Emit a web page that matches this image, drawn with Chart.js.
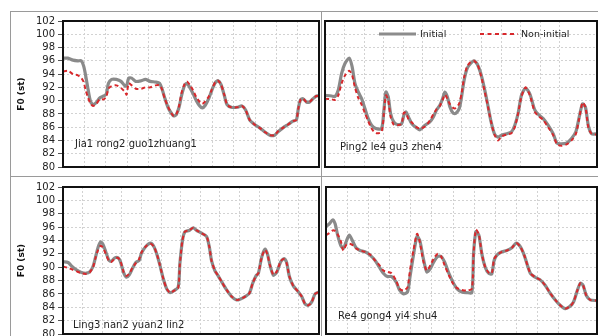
<!DOCTYPE html>
<html><head><meta charset="utf-8">
<script src="https://cdn.jsdelivr.net/npm/chart.js@4"></script>
<style>
html,body{margin:0;padding:0;background:#fff;}
#wrap{position:relative;width:598px;height:336px;overflow:hidden;font-family:'DejaVu Sans',sans-serif;}
canvas{position:absolute;}
.ln{position:absolute;background:#9a9a9a;}
.lab{position:absolute;font-size:10px;line-height:12px;color:#222;white-space:nowrap;}
.leg{position:absolute;font-size:9.5px;line-height:12px;color:#222;white-space:nowrap;}
</style></head><body>
<div id="wrap">
<canvas id="c1" width="322" height="176" style="left:0;top:0;width:322px;height:176px"></canvas>
<canvas id="c2" width="276" height="176" style="left:322px;top:0;width:276px;height:176px"></canvas>
<canvas id="c3" width="322" height="160" style="left:0;top:176px;width:322px;height:160px"></canvas>
<canvas id="c4" width="276" height="160" style="left:322px;top:176px;width:276px;height:160px"></canvas>
<div class="ln" style="left:10px;top:11px;width:588px;height:1px"></div>
<div class="ln" style="left:10px;top:11px;width:1px;height:325px"></div>
<div class="ln" style="left:321px;top:11px;width:1px;height:325px"></div>
<div class="ln" style="left:10px;top:176px;width:588px;height:1px"></div>
<div class="lab" style="left:75px;top:138px">Jia1 rong2 guo1zhuang1</div>
<div class="lab" style="left:340px;top:141px">Ping2 le4 gu3 zhen4</div>
<div class="lab" style="left:73px;top:319px">Ling3 nan2 yuan2 lin2</div>
<div class="lab" style="left:338px;top:310px">Re4 gong4 yi4 shu4</div>
<svg style="position:absolute;left:376px;top:28px" width="150" height="12">
<line x1="3" y1="6" x2="40" y2="6" stroke="#8c8c8c" stroke-width="3"/>
<line x1="104" y1="6" x2="142" y2="6" stroke="#d8282c" stroke-width="2" stroke-dasharray="4,3.5"/>
</svg>
<div class="leg" style="left:420px;top:28px">Initial</div>
<div class="leg" style="left:521px;top:28px">Non-initial</div>
</div>
<script>
// ---- Data (x in grid units, F0 in semitones) ----
const yTicks = [80,82,84,86,88,90,92,94,96,98,100,102];
const seriesNames = ['Initial','Non-initial'];

const tlX = [0,2.3,4.7,7.0,8.6,9.7,10.6,11.7,12.8,14.1,15.6,17.2,19.1,20.3,21.3,22.8,25.0,27.2,29.1,29.8,30.8,32.2,34.1,36.7,38.6,40.9,43.4,45.3,46.4,47.7,49.2,50.8,51.9,53.1,54.4,55.6,57.0,58.1,59.4,60.9,62.5,64.1,65.3,66.7,68.3,69.8,71.4,72.7,74.1,75.6,76.9,78.9,81.6,83.9,85.6,87.5,89.8,92.2,94.5,96.9,99.2,100.8,103.1,105.5,107.8,109.4,110.3,111.3,112.5,114.1,115.6,117.2,118.8,120];
const tlInitial = [96.4,96.4,96.1,96.0,96.0,95.2,93.8,91.8,90.0,89.4,89.7,90.4,90.7,91.0,92.6,93.2,93.2,92.9,92.2,92.2,93.4,93.4,92.9,93.0,93.2,92.9,92.8,92.6,91.8,90.4,89.0,88.1,87.7,87.9,89.0,90.8,92.3,92.6,92.0,91.1,90.0,89.2,88.9,89.3,90.3,91.6,92.7,93.0,92.4,90.8,89.4,89.0,89.0,89.2,88.6,87.1,86.4,85.9,85.3,84.8,84.8,85.3,85.9,86.4,86.9,87.1,88.8,90.1,90.3,89.8,89.8,90.3,90.7,90.7];
const tlNonInitial = [94.4,94.5,94.0,93.8,93.4,92.8,91.6,90.5,89.6,89.2,89.5,90.2,90.2,90.6,91.8,92.2,92.3,91.9,91.3,90.9,92.6,92.3,91.8,91.8,92.0,92.0,92.3,92.3,91.7,90.3,89.1,88.1,87.7,87.9,89.2,91.2,92.5,92.9,92.4,91.6,90.5,89.8,89.5,89.9,90.6,91.7,92.8,93.0,92.4,90.9,89.4,89.0,89.0,89.2,88.6,87.1,86.4,85.9,85.3,84.8,84.8,85.4,85.9,86.4,86.9,87.1,88.8,90.1,90.3,89.8,89.8,90.3,90.7,90.7];

const trX = [0,3.4,5.1,6.8,8.5,10.2,12.4,13.8,15.3,17.0,18.7,20.4,22.1,23.8,26.0,28.9,30.1,31.1,32.3,33.5,35.1,36.9,39.1,40.3,41.4,42.7,44.4,46.8,48.5,51.1,53.6,55.3,57.0,58.7,60.1,61.3,62.5,63.8,65.5,66.9,68.6,69.8,71.1,72.7,74.4,76.1,77.8,79.5,81.2,82.9,84.8,86.6,88.5,90.2,92.8,95.3,97.0,98.7,100.4,102.5,104.7,107.2,109.4,111.5,114.0,116.6,118.6,120.9,123.4,126.0,128.2,129.9,131.6,133.1,134.6,136.3,139];
const trInitial = [90.8,90.7,90.6,91.6,94.1,95.6,96.4,95.2,92.6,91.3,90.3,88.8,87.3,86.3,85.8,85.8,88.6,91.3,90.6,88.1,86.8,86.4,86.5,87.8,88.3,87.5,86.5,85.9,85.6,86.3,86.8,87.5,88.6,89.3,90.3,91.3,90.6,89.1,88.1,88.1,88.8,90.6,93.1,94.9,95.6,96.0,95.5,94.2,92.2,89.8,86.9,85.0,84.5,84.8,85.0,85.3,86.3,88.1,90.8,91.9,91.0,88.6,87.8,87.3,86.3,85.0,83.6,83.5,83.6,84.3,85.3,87.5,89.5,89.0,86.2,85.0,85.0];
const trNonInitial = [90.3,90.2,90.1,90.8,92.6,93.8,94.5,93.9,92.0,90.4,89.4,88.1,86.9,85.8,85.1,85.3,88.1,90.8,90.1,87.6,86.4,86.3,86.5,88.2,88.1,87.2,86.7,86.0,85.8,86.1,87.0,87.9,88.7,89.2,90.1,90.9,90.3,89.5,88.9,88.9,89.6,91.1,93.5,95.2,95.8,96.0,95.5,94.0,91.9,89.6,86.9,84.9,84.0,84.6,84.9,85.1,86.0,88.1,90.6,92.0,90.8,88.3,87.6,87.1,86.0,84.8,83.4,83.2,83.4,84.0,85.0,87.3,89.7,89.0,85.9,85.0,84.9];

const blX = [0,2.6,4.3,6.8,9.4,11.9,13.6,15.3,16.5,17.9,19.2,20.4,21.8,23.5,24.7,26.4,28.1,29.3,31.0,32.3,33.7,35.4,37.1,38.8,40.0,42.2,44.6,46.3,48.0,49.4,51.1,52.8,54.5,56.2,58.7,59.6,60.9,62.1,64.3,66.4,68.1,70.6,73.2,74.6,75.7,77.4,79.1,80.9,83.4,86.0,88.5,90.2,92.8,95.0,96.7,98.4,99.6,101.3,103.0,104.2,105.5,107.2,108.9,111.0,112.7,114.0,115.4,117.4,120.0,121.7,123.4,125.1,126.8,128.5,130.5];
const blInitial = [90.8,90.7,90.2,89.6,89.2,89.1,89.3,90.1,91.4,93.0,93.8,93.4,92.3,91.0,90.9,91.4,91.4,90.8,89.1,88.5,88.8,89.8,90.7,91.0,92.1,93.1,93.6,93.1,91.8,90.3,88.3,86.8,86.2,86.4,87.0,90.6,94.0,95.3,95.5,95.9,95.5,95.1,94.6,93.0,91.0,89.5,88.7,87.8,86.6,85.6,85.1,85.2,85.6,86.1,87.6,88.7,89.1,91.5,92.7,92.0,90.3,88.8,89.2,90.8,91.3,90.7,88.6,87.2,86.3,85.6,84.5,84.3,84.8,86.0,86.3];
const blNonInitial = [90.1,89.9,89.7,89.4,89.1,89.0,89.2,90.0,91.3,92.6,93.2,92.9,92.0,90.9,90.8,91.3,91.4,90.9,89.2,88.7,89.0,89.9,90.6,91.2,92.2,93.1,93.5,93.1,91.8,90.3,88.3,86.8,86.2,86.4,86.9,90.6,94.0,95.3,95.5,95.9,95.5,95.1,94.6,93.0,91.0,89.5,88.7,87.8,86.6,85.6,85.1,85.2,85.6,86.1,87.6,88.7,89.1,91.5,92.6,91.9,90.3,88.9,89.3,90.9,91.2,90.6,88.6,87.2,86.3,85.6,84.5,84.3,84.8,86.0,86.3];

const brX = [0,1.6,3.2,4.3,5.5,6.9,8.2,9.5,11.0,12.6,14.2,16.1,18.4,20.8,23.2,25.2,27.1,29.0,31.0,33.1,34.7,36.6,38.5,39.7,41.3,43.0,44.3,45.9,47.6,49.3,50.9,52.8,54.4,56.0,58.0,59.9,61.8,64.1,66.5,68.9,69.7,70.8,72.2,73.6,75.2,76.8,78.3,79.4,80.7,83.1,85.4,87.8,89.8,91.7,93.6,96.5,98.8,101.2,103.5,105.9,108.3,110.6,113.0,115.1,116.9,118.5,120.1,121.4,122.9,124.8,128];
const brInitial = [96.1,96.5,97.1,96.5,94.8,93.3,92.8,93.8,94.8,93.9,92.9,92.5,92.3,91.8,91.0,90.0,89.1,88.6,88.6,87.8,86.6,86.0,86.3,88.6,91.8,94.6,94.0,91.4,89.3,89.8,90.8,91.6,91.6,90.8,89.1,87.8,86.8,86.3,86.2,86.2,92.0,95.3,94.8,92.0,90.0,89.1,89.0,91.0,91.8,92.3,92.5,92.9,93.6,93.1,91.8,89.1,88.5,88.1,87.3,86.1,85.1,84.3,83.8,84.1,84.8,86.3,87.6,87.3,85.8,85.1,85.0];
const brNonInitial = [94.8,95.1,95.5,95.4,94.9,94.0,92.5,93.3,93.5,93.3,92.8,92.5,92.3,91.9,91.0,90.3,89.5,89.3,89.1,88.0,86.8,86.5,87.0,89.6,92.5,95.0,93.8,91.0,89.5,90.3,91.3,92.0,91.6,90.3,88.8,87.6,86.9,86.6,86.5,86.8,92.0,95.6,94.9,92.0,90.0,89.2,89.1,91.2,91.8,92.3,92.5,92.9,93.6,93.1,91.8,89.1,88.5,88.1,87.3,86.1,85.1,84.3,83.8,84.1,84.8,86.3,87.6,87.3,85.8,85.1,85.0];

// ---- Chart builder ----
const frame = {
  id:'frame',
  afterDatasetsDraw(chart){
    const a = chart.chartArea, c = chart.ctx;
    c.save(); c.strokeStyle='#111'; c.lineWidth=2;
    c.strokeRect(a.left, a.top, a.right-a.left, a.bottom-a.top);
    c.restore();
  }
};

function pts(xs, ys){ return xs.map((x,i)=>({x:x, y:ys[i]})); }

function makeChart(id, xs, initial, nonInitial, o){
  new Chart(document.getElementById(id), {
    type:'line',
    data:{datasets:[
      {label:seriesNames[1], data:pts(xs,nonInitial), borderColor:'#d8282c', borderWidth:2, borderDash:[4,3], pointRadius:0, tension:0.25, fill:false, order:0},
      {label:seriesNames[0], data:pts(xs,initial), borderColor:'#8a8a8a', borderWidth:3.2, pointRadius:0, tension:0.25, fill:false, order:1}
    ]},
    options:{
      responsive:false, animation:false, events:[],
      layout:{padding:o.padding},
      plugins:{legend:{display:false}, tooltip:{enabled:false}},
      scales:{
        x:{type:'linear', min:0, max:o.xmax,
           ticks:{display:false, stepSize:10},
           grid:{color:'#d2d2d2', lineWidth:1, drawTicks:false},
           border:{display:false, dash:[2,2]},
           afterFit(s){ s.height = 0; s.paddingLeft = 0; s.paddingRight = 0; }},
        y:{type:'linear', min:80, max:102,
           afterBuildTicks(s){ s.ticks = yTicks.map(v=>({value:v})); },
           ticks:{display:o.labels, autoSkip:false, padding:3, color:'#222', font:{family:'DejaVu Sans', size:10}},
           grid:{color:'#d2d2d2', lineWidth:1, drawTicks:o.labels, tickLength:5, tickColor:'#555', tickBorderDash:[]},
           border:{display:false, dash:[2,2]},
           title:{display:o.labels, text:'F0 (st)', color:'#111', font:{family:'DejaVu Sans', size:9, weight:'bold'}, padding:{top:16,bottom:0}},
           afterFit(s){ s.width = o.yw; s.paddingTop = 0; s.paddingBottom = 0; }}
      }
    },
    plugins:[frame]
  });
}

makeChart('c1', tlX, tlInitial, tlNonInitial, {xmax:120, labels:true, yw:63, padding:{left:0,right:3,top:21,bottom:9}});
makeChart('c2', trX, trInitial, trNonInitial, {xmax:139, labels:false, yw:0, padding:{left:3,right:1,top:21,bottom:9}});
makeChart('c3', blX, blInitial, blNonInitial, {xmax:130.5, labels:true, yw:63, padding:{left:0,right:3,top:11,bottom:2}});
makeChart('c4', brX, brInitial, brNonInitial, {xmax:128, labels:false, yw:0, padding:{left:4,right:1,top:11,bottom:2}});
</script>
</body></html>
